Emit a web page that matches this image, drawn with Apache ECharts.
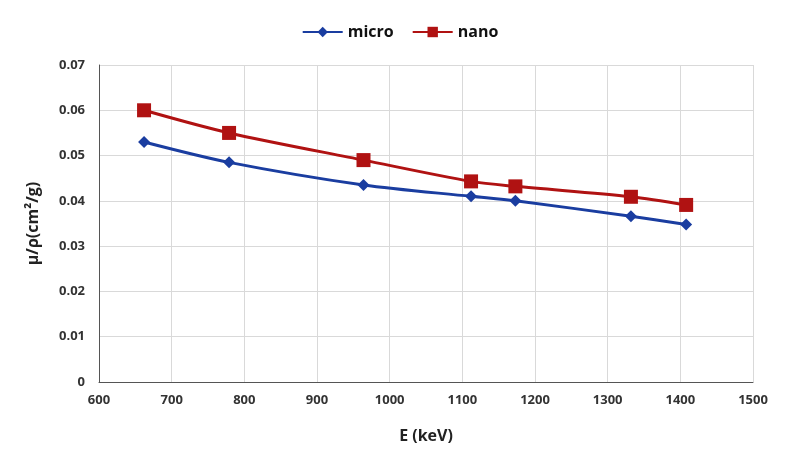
<!DOCTYPE html>
<html><head><meta charset="utf-8">
<script src="https://cdn.jsdelivr.net/npm/echarts@6/dist/echarts.min.js"></script>
<style>html,body{margin:0;padding:0;background:#fff}#c{width:800px;height:470px}</style>
</head><body><div id="c"></div>
<script>
var energies = [662, 779, 964, 1112, 1173, 1332, 1408];
var micro = [0.0530, 0.0485, 0.0435, 0.0410, 0.0400, 0.0366, 0.0348];
var nano = [0.0600, 0.0550, 0.0490, 0.0443, 0.0432, 0.0409, 0.0391];
var seriesNames = ['micro', 'nano'];

var chart = echarts.init(document.getElementById('c'));
var font = '"Open Sans", "Liberation Sans", sans-serif';
function pairs(xs, ys){ return xs.map(function(x,i){return [x, ys[i]];}); }
chart.setOption({
  animation: false,
  textStyle: {fontFamily: font},
  legend: {
    top: 19, left: 'center', itemGap: 18, itemWidth: 40, itemHeight: 13,
    textStyle: {fontSize: 16, fontWeight: 'bold', color: '#111', fontFamily: font},
    data: seriesNames
  },
  grid: {left: 99, right: 47, top: 65, bottom: 88},
  xAxis: {
    type: 'value', min: 600, max: 1500, interval: 100,
    name: 'E (keV)', nameLocation: 'middle', nameGap: 46,
    nameTextStyle: {fontSize: 16, fontWeight: 'bold', color: '#222'},
    axisLine: {show: true, lineStyle: {color: '#555', width: 1}},
    axisTick: {show: false},
    axisLabel: {fontSize: 13, fontWeight: 'bold', color: '#333', margin: 12,
      formatter: function(v){ return String(v); }},
    splitLine: {show: true, lineStyle: {color: '#d9d9d9'}}
  },
  yAxis: {
    type: 'value', min: 0, max: 0.07, interval: 0.01,
    name: 'μ/ρ(cm²/g)', nameLocation: 'middle', nameGap: 58, nameRotate: 90,
    nameTextStyle: {fontSize: 16, fontWeight: 'bold', color: '#222'},
    axisLine: {show: true, lineStyle: {color: '#555', width: 1}},
    axisTick: {show: false},
    axisLabel: {fontSize: 13, fontWeight: 'bold', color: '#333', margin: 14,
      formatter: function(v){ return v === 0 ? '0' : v.toFixed(2); }},
    splitLine: {show: true, lineStyle: {color: '#d9d9d9'}}
  },
  series: [
    {name: seriesNames[0], type: 'line', smooth: 0.3, data: pairs(energies, micro),
     symbol: 'diamond', symbolSize: 12,
     lineStyle: {color: '#1a3da0', width: 3}, itemStyle: {color: '#1a3da0'}},
    {name: seriesNames[1], type: 'line', smooth: 0.3, data: pairs(energies, nano),
     symbol: 'rect', symbolSize: 14,
     lineStyle: {color: '#b01212', width: 3}, itemStyle: {color: '#b01212'}}
  ]
});
</script></body></html>
